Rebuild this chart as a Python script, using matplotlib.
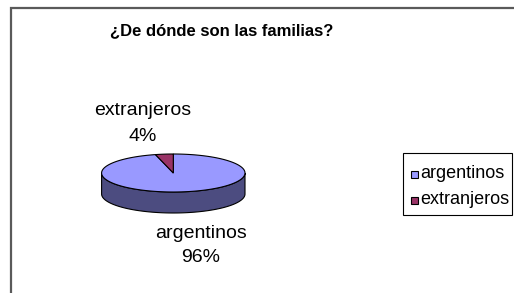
import numpy as np
import matplotlib
matplotlib.use("Agg")
import matplotlib.pyplot as plt
from matplotlib.patches import Polygon, Rectangle

# ---- data ----
categories = ["argentinos", "extranjeros"]
values = [96, 4]
title = "¿De dónde son las familias?"
top_colors = ["#9999FF", "#993366"]
side_colors = ["#4C4C80", "#4D1A33"]

plt.rcParams['font.family'] = ['Liberation Sans', 'DejaVu Sans']

W, H = 514, 293
fig = plt.figure(figsize=(W / 100, H / 100), dpi=100)
ax = fig.add_axes([0, 0, 1, 1])
ax.set_xlim(0, W)
ax.set_ylim(H, 0)
ax.axis("off")

# frame (only left/top visible)
ax.plot([11, 11, W + 5], [H + 5, 8, 8], color="#5a5a5a", lw=1.6, solid_joinstyle="miter")

# title
ax.text(222, 35, title, ha="center", va="baseline", fontsize=12, fontweight="bold")

# pie geometry (pixel space)
cx, cy, rx, ry, depth = 173.3, 173.0, 71.7, 19.0, 21.0
total = float(sum(values))
start = -90.0  # 12 o'clock, clockwise on screen


def ell(t_deg, dy=0.0):
    t = np.radians(t_deg)
    return np.column_stack([cx + rx * np.cos(t), cy + ry * np.sin(t) + dy])


angles = []
a = start
for v in values:
    span = 360.0 * v / total
    angles.append((a, a + span))
    a += span

# sides (front half: 0..180 deg in screen coords)
for (a0, a1), sc in zip(angles, side_colors):
    for shift in (-360, 0, 360):
        lo = max(a0 + shift, 0.0)
        hi = min(a1 + shift, 180.0)
        if hi > lo:
            ts = np.linspace(lo, hi, 120)
            top = ell(ts)
            bot = ell(ts[::-1], depth)
            ax.add_patch(Polygon(np.vstack([top, bot]), closed=True,
                                 facecolor=sc, edgecolor="black", lw=0.8, zorder=2))

# top faces
for (a0, a1), tc in zip(angles, top_colors):
    ts = np.linspace(a0, a1, 240)
    pts = np.vstack([[cx, cy], ell(ts)])
    ax.add_patch(Polygon(pts, closed=True, facecolor=tc, edgecolor="black",
                         lw=0.8, zorder=3))

# data labels
ax.text(143, 115, f"{categories[1]}", ha="center", va="baseline", fontsize=14)
ax.text(143, 141, f"{values[1]}%", ha="center", va="baseline", fontsize=14)
ax.text(201, 238, f"{categories[0]}", ha="center", va="baseline", fontsize=14)
ax.text(201, 262, f"{values[0]}%", ha="center", va="baseline", fontsize=14)

# legend
ax.add_patch(Rectangle((403, 153), 109, 62, facecolor="white", edgecolor="black",
                       lw=0.8, zorder=4))
rows_y = [174, 200]
for cat, col, yy in zip(categories, top_colors, rows_y):
    ax.add_patch(Rectangle((411, yy - 3.5), 7, 7, facecolor=col, edgecolor="black",
                           lw=0.8, zorder=5))
    ax.text(420, yy, cat, ha="left", va="center", fontsize=13, zorder=5)

fig.savefig("out.png", dpi=100)
